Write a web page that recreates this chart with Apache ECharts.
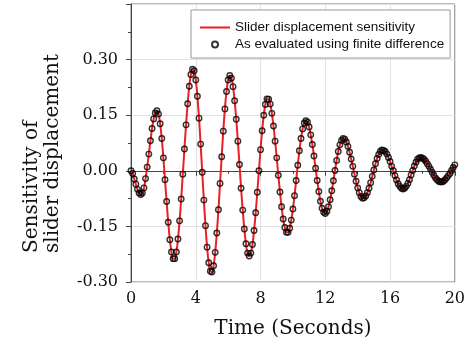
<!DOCTYPE html>
<html>
<head>
<meta charset="utf-8">
<script src="https://cdn.jsdelivr.net/npm/echarts@6/dist/echarts.min.js"></script>
<style>
html,body{margin:0;padding:0;background:#fff;}
#chart{width:468px;height:350px;}
</style>
</head>
<body>
<div id="chart"></div>
<script>
// Time samples (seconds)
const times = [
0.0,0.1,0.2,0.3,0.4,0.5,0.6,0.7,0.8,0.9,1.0,1.1,1.2,1.3,1.4,1.5,1.6,1.7,1.8,1.9,
2.0,2.1,2.2,2.3,2.4,2.5,2.6,2.7,2.8,2.9,3.0,3.1,3.2,3.3,3.4,3.5,3.6,3.7,3.8,3.9,
4.0,4.1,4.2,4.3,4.4,4.5,4.6,4.7,4.8,4.9,5.0,5.1,5.2,5.3,5.4,5.5,5.6,5.7,5.8,5.9,
6.0,6.1,6.2,6.3,6.4,6.5,6.6,6.7,6.8,6.9,7.0,7.1,7.2,7.3,7.4,7.5,7.6,7.7,7.8,7.9,
8.0,8.1,8.2,8.3,8.4,8.5,8.6,8.7,8.8,8.9,9.0,9.1,9.2,9.3,9.4,9.5,9.6,9.7,9.8,9.9,
10.0,10.1,10.2,10.3,10.4,10.5,10.6,10.7,10.8,10.9,11.0,11.1,11.2,11.3,11.4,11.5,11.6,11.7,11.8,11.9,
12.0,12.1,12.2,12.3,12.4,12.5,12.6,12.7,12.8,12.9,13.0,13.1,13.2,13.3,13.4,13.5,13.6,13.7,13.8,13.9,
14.0,14.1,14.2,14.3,14.4,14.5,14.6,14.7,14.8,14.9,15.0,15.1,15.2,15.3,15.4,15.5,15.6,15.7,15.8,15.9,
16.0,16.1,16.2,16.3,16.4,16.5,16.6,16.7,16.8,16.9,17.0,17.1,17.2,17.3,17.4,17.5,17.6,17.7,17.8,17.9,
18.0,18.1,18.2,18.3,18.4,18.5,18.6,18.7,18.8,18.9,19.0,19.1,19.2,19.3,19.4,19.5,19.6,19.7,19.8,19.9,
20.0
];
// Slider displacement sensitivity
const sensitivity = [
0.000,-0.007,-0.022,-0.036,-0.050,-0.060,-0.064,-0.060,-0.046,-0.021,
0.010,0.045,0.081,0.114,0.140,0.156,0.162,0.153,0.127,0.087,
0.035,-0.024,-0.083,-0.139,-0.186,-0.219,-0.237,-0.237,-0.219,-0.184,
-0.135,-0.076,-0.009,0.059,0.124,0.181,0.228,0.260,0.274,0.270,
0.245,0.201,0.142,0.072,-0.004,-0.079,-0.148,-0.206,-0.248,-0.271,
-0.273,-0.256,-0.220,-0.168,-0.105,-0.034,0.038,0.107,0.167,0.214,
0.245,0.257,0.250,0.227,0.189,0.139,0.080,0.017,-0.047,-0.106,
-0.157,-0.197,-0.222,-0.230,-0.222,-0.199,-0.161,-0.113,-0.058,0.000,
0.057,0.108,0.150,0.179,0.194,0.193,0.180,0.155,0.121,0.080,
0.035,-0.012,-0.057,-0.097,-0.130,-0.153,-0.166,-0.166,-0.155,-0.133,
-0.103,-0.067,-0.026,0.015,0.054,0.087,0.113,0.129,0.135,0.131,
0.118,0.097,0.071,0.040,0.007,-0.026,-0.056,-0.082,-0.101,-0.112,
-0.115,-0.109,-0.097,-0.078,-0.054,-0.027,0.001,0.028,0.052,0.070,
0.082,0.087,0.085,0.078,0.066,0.050,0.032,0.012,-0.009,-0.028,
-0.046,-0.059,-0.069,-0.074,-0.073,-0.068,-0.059,-0.047,-0.032,-0.015,
0.002,0.019,0.033,0.044,0.052,0.056,0.055,0.052,0.045,0.036,
0.025,0.012,0.000,-0.013,-0.025,-0.035,-0.042,-0.047,-0.049,-0.047,
-0.042,-0.034,-0.024,-0.011,0.001,0.013,0.023,0.031,0.035,0.036,
0.034,0.031,0.026,0.019,0.012,0.004,-0.004,-0.012,-0.019,-0.024,
-0.028,-0.030,-0.030,-0.028,-0.024,-0.019,-0.013,-0.007,0.001,0.009,
0.016
];
// Finite difference evaluation (same sample times)
const finiteDiff = sensitivity.slice();

const seriesNames = ['Slider displacement sensitivity', 'As evaluated using finite difference'];
const xTitle = 'Time (Seconds)';
const yTitle = 'Sensitivity of\nslider displacement';
const hiddenYTick = 0.45;

const lineData = times.map((t, i) => [t, sensitivity[i]]);
const fdData = times.map((t, i) => [t, finiteDiff[i]]);

const serif = 'DejaVu Serif';
const chart = echarts.init(document.getElementById('chart'), null, {renderer: 'canvas'});
chart.setOption({
  animation: false,
  backgroundColor: '#fff',
  grid: {left: 131, right: 13, top: 4, bottom: 68, show: true, borderColor: '#777', borderWidth: 1, backgroundColor: 'transparent'},
  legend: {
    orient: 'vertical',
    left: 191, top: 10,
    padding: [10, 6, 6, 8],
    itemGap: 2,
    itemWidth: 30, itemHeight: 6,
    backgroundColor: '#fff',
    borderColor: '#999', borderWidth: 1,
    textStyle: {fontFamily: 'Liberation Sans', fontSize: 13.5, color: '#111', lineHeight: 15},
    data: [
      {name: seriesNames[0], itemStyle: {opacity: 0}},
      {name: seriesNames[1]}
    ]
  },
  xAxis: {
    type: 'value', min: 0, max: 20, interval: 4,
    name: xTitle, nameLocation: 'middle', nameGap: 37,
    nameTextStyle: {fontFamily: serif, fontSize: 20, color: '#111'},
    axisLine: {lineStyle: {color: '#444'}},
    axisTick: {show: true, length: 5, lineStyle: {color: '#444'}},
    minorTick: {show: true, splitNumber: 2, length: 3, lineStyle: {color: '#444'}},
    axisLabel: {fontFamily: serif, fontSize: 16, color: '#111', margin: 9},
    splitLine: {show: true, lineStyle: {color: '#e2e2e2', width: 1}}
  },
  yAxis: {
    type: 'value', min: -0.30, max: 0.45, interval: 0.15,
    axisLine: {show: true, lineStyle: {color: '#444'}},
    axisTick: {show: true, length: 5, lineStyle: {color: '#444'}},
    minorTick: {show: true, splitNumber: 2, length: 3, lineStyle: {color: '#444'}},
    axisLabel: {
      fontFamily: serif, fontSize: 16, color: '#111', margin: 13,
      formatter: v => Math.abs(v - hiddenYTick) < 1e-6 ? '' : v.toFixed(2)
    },
    splitLine: {show: true, lineStyle: {color: '#e2e2e2', width: 1}}
  },
  graphic: [{
    type: 'text',
    x: 42, y: 253,
    rotation: Math.PI / 2,
    style: {
      text: yTitle,
      fontFamily: serif, fontSize: 20, fill: '#111',
      align: 'left', verticalAlign: 'middle', lineHeight: 21
    }
  }],
  series: [
    {
      name: seriesNames[0], type: 'line', data: lineData,
      showSymbol: false, symbol: 'none', smooth: true,
      lineStyle: {color: '#ec1f24', width: 2},
      itemStyle: {color: '#ec1f24'},
      z: 2
    },
    {
      name: seriesNames[1], type: 'scatter', data: fdData,
      symbol: 'circle', symbolSize: 5.5,
      itemStyle: {color: 'rgba(0,0,0,0)', borderColor: '#000', borderWidth: 1.4},
      z: 3
    }
  ]
});
</script>
</body>
</html>
